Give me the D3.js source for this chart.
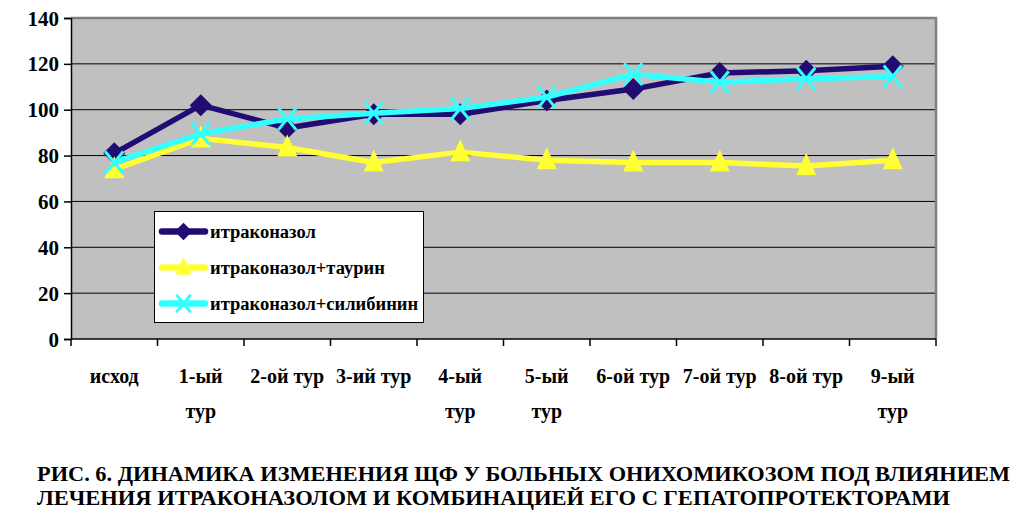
<!DOCTYPE html>
<html><head><meta charset="utf-8">
<script src="https://cdn.jsdelivr.net/npm/d3@7"></script>
<style>body{margin:0;background:#fff}svg{display:block}</style>
</head><body>
<svg id="c" width="1034" height="532"></svg>
<script>
const categories = ["исход","1-ый тур","2-ой тур","3-ий тур","4-ый тур","5-ый тур","6-ой тур","7-ой тур","8-ой тур","9-ый тур"];
const categoryLines = [["исход"],["1-ый","тур"],["2-ой тур"],["3-ий тур"],["4-ый","тур"],["5-ый","тур"],["6-ой тур"],["7-ой тур"],["8-ой тур"],["9-ый","тур"]];
const itraconazole = [81,102,92,98,98,104,109,116,117,119];
const taurine = [74,87.5,83.5,77,81.5,78,77,77,75.5,78];
const silibinin = [77,89.5,96,98.5,100.5,105.5,115.5,112,113.5,114.5];
const yTicks = [0,20,40,60,80,100,120,140];
const seriesNames = ["итраконазол","итраконазол+таурин","итраконазол+силибинин"];
const titleLines = ["РИС. 6. ДИНАМИКА ИЗМЕНЕНИЯ ЩФ У БОЛЬНЫХ ОНИХОМИКОЗОМ ПОД ВЛИЯНИЕМ","ЛЕЧЕНИЯ ИТРАКОНАЗОЛОМ И КОМБИНАЦИЕЙ ЕГО С ГЕПАТОПРОТЕКТОРАМИ"];

const series = [
  {name: seriesNames[0], values: itraconazole, color: "#220b72", marker: "diamond"},
  {name: seriesNames[1], values: taurine, color: "#ffff33", marker: "triangle"},
  {name: seriesNames[2], values: silibinin, color: "#33ffff", marker: "x"}
];

const svg = d3.select("#c");
const L = 71, R = 936, T = 18, B = 339;
const font = "'Liberation Serif', 'Times New Roman', serif";

const x = d3.scaleBand().domain(categories).range([L, R]).padding(0);
const y = d3.scaleLinear().domain([0, 140]).range([B, T]);
const cx = c => x(c) + x.bandwidth() / 2;

svg.append("rect").attr("x", L).attr("y", T).attr("width", R - L).attr("height", B - T).attr("fill", "#c0c0c0");
svg.append("g").selectAll("line").data(yTicks.filter(v => v > 0 && v < 140)).join("line")
  .attr("x1", L).attr("x2", R).attr("y1", d => y(d)).attr("y2", d => y(d))
  .attr("stroke", "#000").attr("stroke-width", 1);
svg.append("path").attr("d", `M${L},${T}H${R}V${B}`).attr("fill", "none").attr("stroke", "#808080").attr("stroke-width", 2.5);

const yAxis = svg.append("g").attr("transform", `translate(${L},0)`)
  .call(d3.axisLeft(y).tickValues(yTicks).tickSize(7).tickPadding(5));
yAxis.attr("font-family", null);
yAxis.select(".domain").attr("stroke", "#000").attr("stroke-width", 1.5);
yAxis.selectAll(".tick line").attr("stroke", "#000").attr("stroke-width", 1.5);
yAxis.selectAll(".tick text").style("font-family", font).style("font-weight", "bold").style("font-size", "21px").attr("fill", "#000").attr("dy", "0.34em");

const bounds = categories.map(c => x(c)).concat([R]);
svg.append("line").attr("x1", L).attr("x2", R).attr("y1", B).attr("y2", B).attr("stroke", "#000").attr("stroke-width", 1.5);
svg.append("g").selectAll("line").data(bounds).join("line")
  .attr("x1", d => d).attr("x2", d => d).attr("y1", B).attr("y2", B + 7)
  .attr("stroke", "#000").attr("stroke-width", 1.5);
const xl = svg.append("g").selectAll("text").data(categories).join("text")
  .attr("x", d => cx(d)).attr("y", 383).attr("text-anchor", "middle")
  .style("font-family", font).style("font-weight", "bold").style("font-size", "20px").attr("fill", "#000");
xl.each(function(d, i) {
  d3.select(this).selectAll("tspan").data(categoryLines[i]).join("tspan")
    .attr("x", cx(d)).attr("dy", (t, j) => j === 0 ? 0 : 35).text(t => t);
});

function drawMarker(g, type, color, px, py, k) {
  k = k || 1;
  if (type === "diamond") {
    g.append("path").attr("d", `M${px},${py-11*k}L${px+11*k},${py}L${px},${py+11*k}L${px-11*k},${py}Z`).attr("fill", color);
  } else if (type === "triangle") {
    g.append("path").attr("d", `M${px},${py-13*k}L${px+10*k},${py+9*k}L${px-10*k},${py+9*k}Z`).attr("fill", color);
  } else {
    g.append("path").attr("d", `M${px-9*k},${py-11*k}L${px+9*k},${py+11*k}M${px+9*k},${py-11*k}L${px-9*k},${py+11*k}`)
      .attr("stroke", color).attr("stroke-width", 3).attr("fill", "none");
  }
}

const line = d3.line().x((d, i) => cx(categories[i])).y(d => y(d));
series.forEach(s => {
  const g = svg.append("g");
  g.append("path").attr("d", line(s.values)).attr("fill", "none").attr("stroke", s.color)
    .attr("stroke-width", 5.5).attr("stroke-linejoin", "round");
  s.values.forEach((v, i) => drawMarker(g, s.marker, s.color, cx(categories[i]), y(v)));
});

const lg = svg.append("g");
lg.append("rect").attr("x", 154.5).attr("y", 211.5).attr("width", 269).attr("height", 111)
  .attr("fill", "#fff").attr("stroke", "#000").attr("stroke-width", 1);
const legY = [231.5, 267.5, 303.5];
series.forEach((s, i) => {
  const g = lg.append("g");
  g.append("line").attr("x1", 162).attr("x2", 205).attr("y1", legY[i]).attr("y2", legY[i])
    .attr("stroke", s.color).attr("stroke-width", 6.5).attr("stroke-linecap", "round");
  drawMarker(g, s.marker, s.color, 183.5, legY[i], 0.8);
  g.append("text").attr("x", 210).attr("y", legY[i]).attr("dy", "0.33em")
    .style("font-family", font).style("font-weight", "bold").style("font-size", "18.5px").attr("fill", "#000").text(s.name);
});

const titleY = [481, 505];
const titleLen = [973, 913];
svg.append("g").selectAll("text").data(titleLines).join("text")
  .attr("x", 37).attr("y", (d, i) => titleY[i]).attr("textLength", (d, i) => titleLen[i]).attr("lengthAdjust", "spacingAndGlyphs")
  .style("font-family", font).style("font-weight", "bold").style("font-size", "21px").attr("fill", "#000").text(d => d);
</script>
</body></html>
